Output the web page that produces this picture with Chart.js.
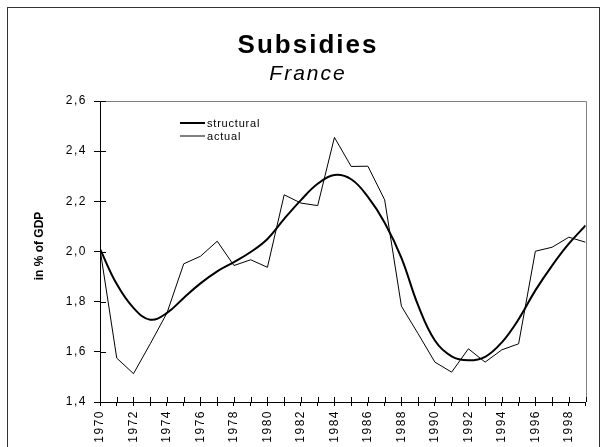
<!DOCTYPE html>
<html>
<head>
<meta charset="utf-8">
<script src="https://cdn.jsdelivr.net/npm/chart.js@4/dist/chart.umd.min.js"></script>
<style>
  html, body { margin: 0; padding: 0; background: #fff; }
  canvas { display: block; }
</style>
</head>
<body>
<canvas id="myChart" width="604" height="447"></canvas>
<script>
// data
const years = [1970, 1971, 1972, 1973, 1974, 1975, 1976, 1977, 1978, 1979,
               1980, 1981, 1982, 1983, 1984, 1985, 1986, 1987, 1988, 1989,
               1990, 1991, 1992, 1993, 1994, 1995, 1996, 1997, 1998, 1999];
const structural = [2.01, 1.87, 1.775, 1.728, 1.755, 1.815, 1.873, 1.921, 1.958, 1.998,
                    2.05, 2.13, 2.205, 2.27, 2.305, 2.288, 2.218, 2.115, 1.975, 1.785,
                    1.645, 1.582, 1.566, 1.58, 1.638, 1.73, 1.845, 1.944, 2.031, 2.104];
const actual = [2.01, 1.575, 1.513, 1.632, 1.755, 1.951, 1.981, 2.041, 1.944, 1.967,
                1.937, 2.226, 2.193, 2.183, 2.455, 2.339, 2.34, 2.206, 1.782, 1.672,
                1.559, 1.519, 1.612, 1.559, 1.608, 1.632, 2.001, 2.017, 2.057, 2.037];
const yTicks = [1.4, 1.6, 1.8, 2.0, 2.2, 2.4, 2.6];
const seriesNames = ["structural", "actual"];

const FONT = "'Liberation Sans', Arial, sans-serif";

// frame, titles, legend and inner tick marks
const decor = {
    id: "decor",
    beforeDraw(chart) {
        const ctx = chart.ctx;
        ctx.save();
        ctx.strokeStyle = "#333";
        ctx.lineWidth = 1;
        ctx.strokeRect(7.5, 7.5, 592, 470);
        ctx.restore();
        ctx.letterSpacing = "1.5px";
    },
    afterDraw(chart) {
        const ctx = chart.ctx;
        const area = chart.chartArea;
        const xs = chart.scales.x, ys = chart.scales.y;
        ctx.save();
        ctx.letterSpacing = "0px";

        // top and right plot border
        ctx.strokeStyle = "#808080";
        ctx.lineWidth = 1;
        ctx.beginPath();
        ctx.moveTo(area.left, Math.round(area.top) + 0.5);
        ctx.lineTo(Math.round(area.right) + 0.5, Math.round(area.top) + 0.5);
        ctx.lineTo(Math.round(area.right) + 0.5, area.bottom);
        ctx.stroke();

        // tick marks crossing into the plot
        ctx.strokeStyle = "#000";
        ctx.beginPath();
        xs.ticks.forEach(t => {
            const px = Math.round(xs.getPixelForValue(t.value)) + 0.5;
            ctx.moveTo(px, area.bottom);
            ctx.lineTo(px, area.bottom - 5);
        });
        ys.ticks.forEach(t => {
            const py = Math.round(ys.getPixelForValue(t.value)) + 0.5;
            ctx.moveTo(area.left, py);
            ctx.lineTo(area.left + 6, py);
        });
        ctx.stroke();

        // titles
        ctx.fillStyle = "#000";
        ctx.textAlign = "center";
        ctx.textBaseline = "alphabetic";
        ctx.letterSpacing = "2px";
        ctx.font = "bold 26px " + FONT;
        ctx.fillText("Subsidies", 308, 53);
        ctx.font = "italic 21px " + FONT;
        ctx.fillText("France", 308, 80);

        // y axis title
        ctx.letterSpacing = "0px";
        ctx.font = "bold 12px " + FONT;
        ctx.translate(43, 246);
        ctx.rotate(-Math.PI / 2);
        ctx.fillText("in % of GDP", 0, 0);
        ctx.setTransform(1, 0, 0, 1, 0, 0);

        // legend
        ctx.textAlign = "left";
        ctx.textBaseline = "middle";
        ctx.letterSpacing = "0.8px";
        ctx.font = "11px " + FONT;
        chart.data.datasets.forEach((ds, i) => {
            const y = 123 + i * 13;
            ctx.strokeStyle = ds.borderColor;
            ctx.lineWidth = ds.borderWidth;
            ctx.beginPath();
            ctx.moveTo(180, y);
            ctx.lineTo(205, y);
            ctx.stroke();
            ctx.fillText(ds.label, 207, y + 1);
        });
        ctx.restore();
    }
};

const ctx = document.getElementById("myChart").getContext("2d");

new Chart(ctx, {
    type: "line",
    data: {
        datasets: [
            {
                label: seriesNames[0],
                data: years.map((yr, i) => ({ x: yr, y: structural[i] })),
                borderColor: "#000",
                borderWidth: 2,
                pointRadius: 0,
                tension: 0.4,
                fill: false,
            },
            {
                label: seriesNames[1],
                data: years.map((yr, i) => ({ x: yr, y: actual[i] })),
                borderColor: "#000",
                borderWidth: 1,
                pointRadius: 0,
                tension: 0,
                fill: false,
            },
        ],
    },
    options: {
        responsive: false,
        animation: false,
        events: [],
        layout: { padding: { top: 101, right: 14, left: 0, bottom: 0 } },
        plugins: {
            legend: { display: false },
            title: { display: false },
            tooltip: { enabled: false },
        },
        scales: {
            x: {
                type: "linear",
                min: years[0],
                max: years[years.length - 1],
                afterFit(scale) { scale.height = 45; },
                afterBuildTicks(scale) {
                    scale.ticks = years.map(v => ({ value: v }));
                },
                ticks: {
                    autoSkip: false,
                    minRotation: 90,
                    maxRotation: 90,
                    padding: 4,
                    color: "#000",
                    font: { family: FONT, size: 12 },
                    callback: v => (v % 2 === 0 && v < 1999) ? String(v) : "",
                },
                grid: { drawOnChartArea: false, tickLength: 4, color: "#000" },
                border: { color: "#000", width: 1 },
            },
            y: {
                min: 1.4,
                max: 2.6,
                afterFit(scale) { scale.width = 100; },
                afterBuildTicks(scale) {
                    scale.ticks = yTicks.map(v => ({ value: v }));
                },
                ticks: {
                    padding: 7,
                    color: "#000",
                    font: { family: FONT, size: 12 },
                    callback: v => v.toFixed(1).replace(".", ","),
                },
                grid: { drawOnChartArea: false, tickLength: 6, color: "#000" },
                border: { color: "#000", width: 1 },
            },
        },
    },
    plugins: [decor],
});
</script>
</body>
</html>
